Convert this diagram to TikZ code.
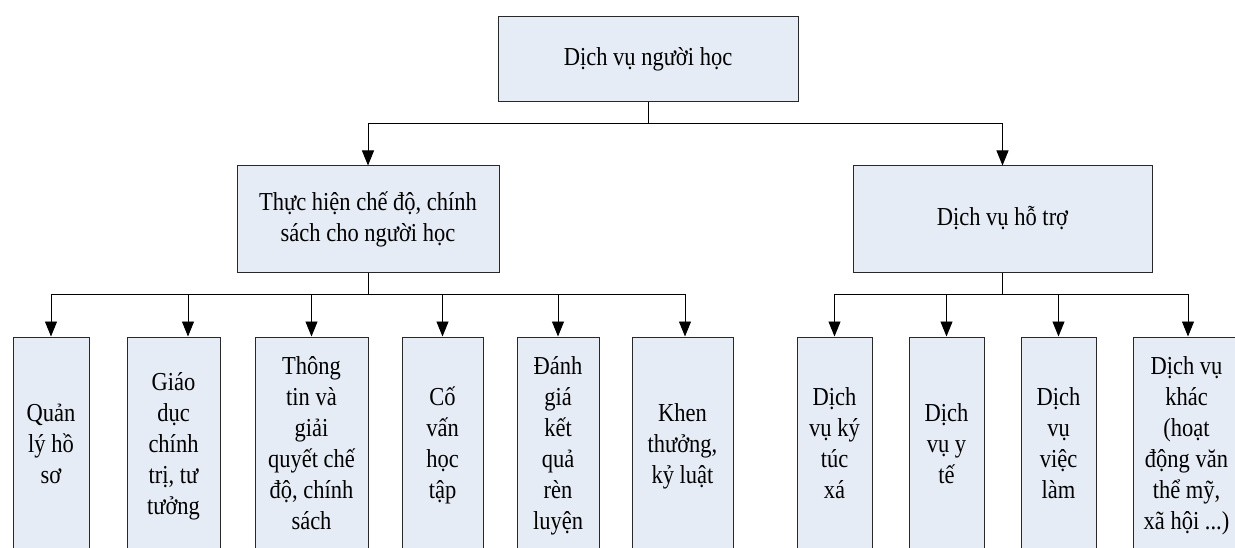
\documentclass[tikz,border=0pt]{standalone}
\usepackage{fontspec}
\usepackage{graphicx}
\setmainfont{Liberation Serif}
\usetikzlibrary{arrows.meta}
\definecolor{boxfill}{RGB}{230,236,246}
\definecolor{boxline}{RGB}{40,40,40}
\newcommand{\vtxt}[1]{\scalebox{1}[1.15]{\begin{tabular}{@{}c@{}}#1\end{tabular}}}
\tikzset{
  box/.style={draw=boxline, line width=1pt, fill=boxfill, inner sep=0pt,
    align=center, font=\fontsize{22.5}{27}\selectfont},
  leaf/.style={box, minimum height=218pt},
  conn/.style={draw=black, line width=0.9pt},
  arr/.style={conn, -{Triangle[width=12pt,length=15pt]}}
}
\begin{document}
\begin{tikzpicture}[x=1pt,y=-1pt]
\useasboundingbox (0,0) rectangle (1235,548);
\clip (0,0) rectangle (1235,548);
% main nodes
\node[box, minimum width=300pt, minimum height=85pt] (top) at (648,59.5) {\vtxt{Dịch vụ người học}};
\node[box, minimum width=262pt, minimum height=107pt] (lmid) at (368,219.5) {\vtxt{Thực hiện chế độ, chính\\sách cho người học}};
\node[box, minimum width=299pt, minimum height=107pt] (rmid) at (1002.5,219.5) {\vtxt{Dịch vụ hỗ trợ}};
% leaves
\node[leaf, minimum width=76pt]  (b1)  at (51,446)    {\vtxt{Quản\\lý hồ\\sơ}};
\node[leaf, minimum width=93pt]  (b2)  at (173.5,446) {\vtxt{Giáo\\dục\\chính\\trị, tư\\tưởng}};
\node[leaf, minimum width=113pt] (b3)  at (311.5,446) {\vtxt{Thông\\tin và\\giải\\quyết chế\\độ, chính\\sách}};
\node[leaf, minimum width=81pt]  (b4)  at (442.5,446) {\vtxt{Cố\\vấn\\học\\tập}};
\node[leaf, minimum width=82pt]  (b5)  at (558,446)   {\vtxt{Đánh\\giá\\kết\\quả\\rèn\\luyện}};
\node[leaf, minimum width=101pt] (b6)  at (682.5,446) {\vtxt{Khen\\thưởng,\\kỷ luật}};
\node[leaf, minimum width=75pt]  (b7)  at (834.5,446) {\vtxt{Dịch\\vụ ký\\túc\\xá}};
\node[leaf, minimum width=75pt]  (b8)  at (946.5,446) {\vtxt{Dịch\\vụ y\\tế}};
\node[leaf, minimum width=75pt]  (b9)  at (1058.5,446) {\vtxt{Dịch\\vụ\\việc\\làm}};
\node[leaf, minimum width=107pt] (b10) at (1186.5,446) {\vtxt{Dịch vụ\\khác\\(hoạt\\động văn\\thể mỹ,\\xã hội ...)}};
% junctions
\coordinate (j0) at (648,123);
\coordinate (j1) at (368,294);
\coordinate (j2) at (1002.5,294);
% connectors
\draw[conn] (top) -- (j0);
\draw[arr] (j0) -| (lmid);
\draw[arr] (j0) -| (rmid);
\draw[conn] (lmid) -- (j1);
\draw[conn] (rmid) -- (j2);
\draw[arr] (j1) -| (b1);
\draw[arr] (j1) -| ([xshift=14.5pt]b2.north);
\draw[arr] (j1) -| (b3);
\draw[arr] (j1) -| (b4);
\draw[arr] (j1) -| (b5);
\draw[arr] (j1) -| ([xshift=2.5pt]b6.north);
\draw[arr] (j2) -| (b7);
\draw[arr] (j2) -| (b8);
\draw[arr] (j2) -| (b9);
\draw[arr] (j2) -| ([xshift=1.5pt]b10.north);
\end{tikzpicture}
\end{document}
